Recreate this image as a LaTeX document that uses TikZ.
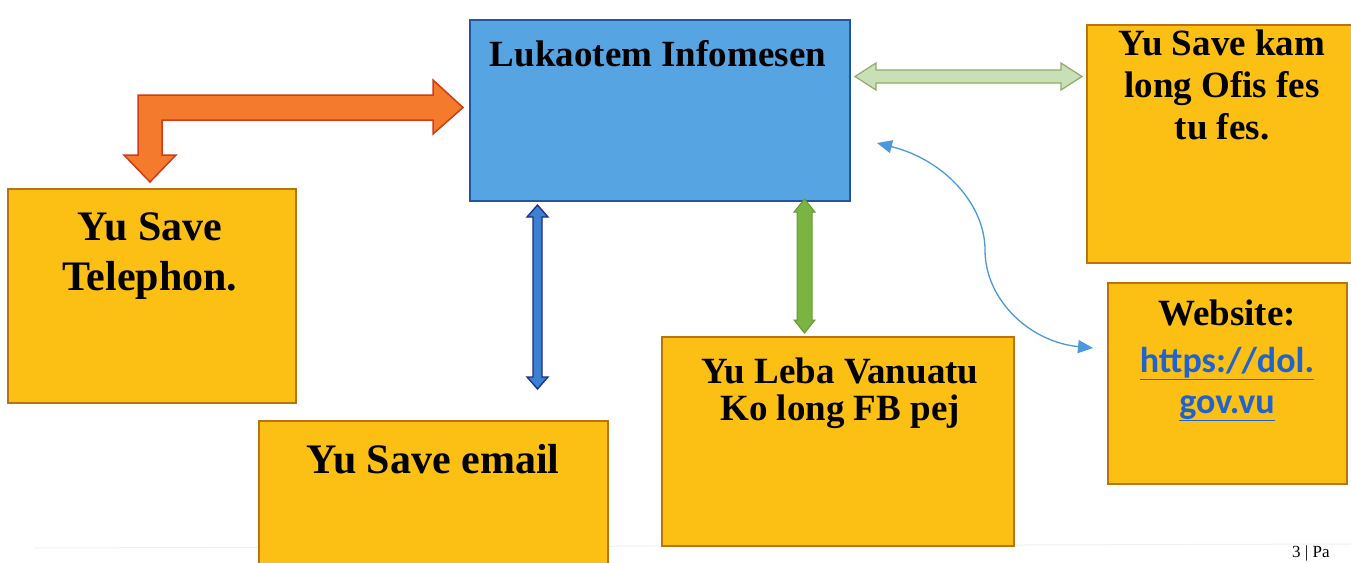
\documentclass[tikz,border=0pt]{standalone}
\usepackage{fontspec}
\setmainfont{Liberation Serif}
\newfontfamily\calibri{Carlito}
\usetikzlibrary{arrows.meta}
\definecolor{boxyellow}{HTML}{FCC015}
\definecolor{boxedge}{HTML}{B9750C}
\definecolor{boxblue}{HTML}{57A4E3}
\definecolor{blueedge}{HTML}{24559F}
\definecolor{orfill}{HTML}{F37B2B}
\definecolor{oredge}{HTML}{D23A18}
\definecolor{lgfill}{HTML}{C9DFB5}
\definecolor{lgedge}{HTML}{8DAE68}
\definecolor{dbfill}{HTML}{3C80D2}
\definecolor{dbedge}{HTML}{1A2E88}
\definecolor{gfill}{HTML}{7BB442}
\definecolor{gedge}{HTML}{679B33}
\definecolor{curveblue}{HTML}{4C98DE}
\definecolor{urlblue}{HTML}{2163CC}
\begin{document}
\begin{tikzpicture}[x=1pt,y=-1pt,
  ybox/.style={draw=boxedge,fill=boxyellow,line width=1.8pt,inner sep=0pt,anchor=north west},
  bbox/.style={draw=blueedge,fill=boxblue,line width=2.2pt,inner sep=0pt,anchor=north west},
  txtA/.style={font=\fontsize{37}{40}\selectfont\bfseries,inner sep=0pt,anchor=base},
  txtB/.style={font=\fontsize{42}{46}\selectfont\bfseries,inner sep=0pt,anchor=base},
  urltxt/.style={font=\calibri\bfseries\fontsize{36}{40}\selectfont,text=urlblue,inner sep=0pt,anchor=base},
  fat/.style={line width=1.5pt,line join=miter}
]
\useasboundingbox (0,0) rectangle (1351,562);
\fill[white] (0,0) rectangle (1351,562);
% faint footer rule
\draw[gray!12,line width=1pt] (35,548) -- (1351,544);
\node[anchor=base west,font=\fontsize{17}{20}\selectfont,inner sep=0pt] (pg) at (1292,557) {3 | Pa};

% boxes
\node[bbox,minimum width=380pt,minimum height=181pt] (info) at (469,19) {};
\node[ybox,minimum width=288pt,minimum height=214pt] (tel) at (7,188) {};
\node[ybox,minimum width=349pt,minimum height=160pt] (email) at (258,420) {};
\node[ybox,minimum width=352pt,minimum height=209pt] (fb) at (661,336) {};
\node[ybox,minimum width=280pt,minimum height=238pt] (ofis) at (1086,24) {};
\node[ybox,minimum width=239pt,minimum height=201pt] (web) at (1107,282) {};

% texts
\node[txtA] (tinfo) at (658,66) {Lukaotem Infomesen};
\node[txtB] (ttel1) at (150,240) {Yu Save};
\node[txtB] (ttel2) at (150,290) {Telephon.};
\node[txtB] (temail) at (433,473) {Yu Save email};
\node[txtA] (tfb1) at (840,383) {Yu Leba Vanuatu};
\node[txtA] (tfb2) at (840,420) {Ko long FB pej};
\node[txtA] (tof1) at (1222,55) {Yu Save kam};
\node[txtA] (tof2) at (1222,97) {long Ofis fes};
\node[txtA] (tof3) at (1222,139) {tu fes.};
\node[txtA] (tweb) at (1227,325) {Website:};
\node[urltxt] (turl1) at (1227,372) {\underline{https://dol.}};
\node[urltxt] (turl2) at (1227,413) {\underline{gov.vu}};

% orange bent arrow (telephone <-> info)
\draw[fat,fill=orfill,draw=oredge]
  (138,95) -- (433,95) -- (433,80) -- (463,107.5) -- (433,134) -- (433,120)
  -- (162,120) -- (162,155) -- (176,155) -- (150,182) -- (124,155) -- (138,155) -- cycle;

% light green horizontal double arrow (info <-> ofis)
\draw[line width=1.2pt,fill=lgfill,draw=lgedge]
  (855,76.5) -- (876,63) -- (876,70) -- (1061,70) -- (1061,63) -- (1082,76.5)
  -- (1061,90) -- (1061,83) -- (876,83) -- (876,90) -- cycle;

% dark blue vertical double arrow (info <-> email)
\draw[line width=1.3pt,fill=dbfill,draw=dbedge]
  (537.5,205) -- (548,217) -- (542,217) -- (542,377) -- (548,377) -- (537.5,389)
  -- (527,377) -- (533,377) -- (533,217) -- (527,217) -- cycle;

% green vertical double arrow (info <-> fb)
\draw[line width=1pt,fill=gfill,draw=gedge]
  (804.5,199) -- (815,212) -- (812,212) -- (812,320) -- (815,320) -- (804.5,333)
  -- (794,320) -- (797,320) -- (797,212) -- (794,212) -- cycle;

% blue curved double arrow (info <-> website)
\coordinate (cs) at (877,143);
\coordinate (cm) at (985,250);
\coordinate (ce) at (1093,348);
\draw[curveblue,line width=1.3pt,{Triangle[length=15pt,width=13pt]}-{Triangle[length=15pt,width=13pt]}]
  (cs) .. controls (945,160) and (985,205) .. (cm)
  .. controls (985,300) and (1030,342) .. (ce);
\end{tikzpicture}
\end{document}
